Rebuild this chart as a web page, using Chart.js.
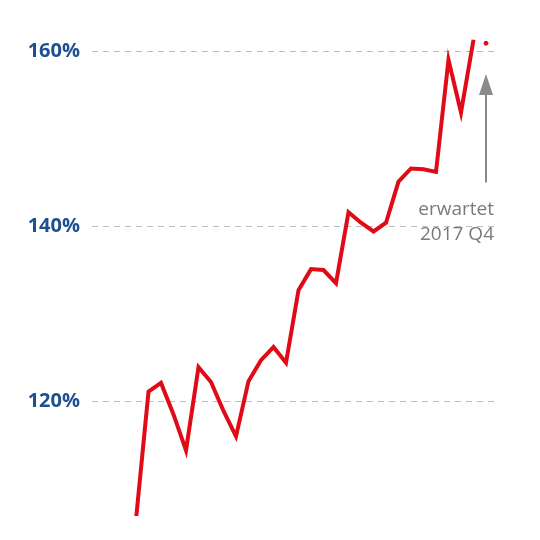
<!DOCTYPE html>
<html><head><meta charset="utf-8">
<script src="https://cdn.jsdelivr.net/npm/chart.js@4"></script>
<style>html,body{margin:0;padding:0;background:#fff;overflow:hidden}canvas{display:block}</style>
</head><body><canvas id="c" width="540" height="540" style="width:540px;height:540px"></canvas>
<script>
const values = [106.5,121.1,122.1,118.5,114.4,123.9,122.2,118.9,116.0,122.3,124.7,126.2,124.4,132.7,135.1,135.0,133.5,141.6,140.4,139.4,140.4,145.1,146.6,146.5,146.2,159.0,153.0,161.3];
const expected = 160.9;
const tickValues = [120,140,160];
const noteLines = ["erwartet","2017 Q4"];

const lineData = values.map((v,i)=>({x:i,y:v}));
const expData = [{x:values.length,y:expected}];

const annot = {
  id:'annot',
  afterDatasetsDraw(chart){
    const {ctx,scales:{x,y}} = chart;
    const px = x.getPixelForValue(values.length);
    ctx.save();
    ctx.strokeStyle='#8a8a8a'; ctx.fillStyle='#8a8a8a'; ctx.lineWidth=2;
    const top=y.getPixelForValue(157.4), bot=y.getPixelForValue(145.0);
    ctx.beginPath(); ctx.moveTo(px,bot); ctx.lineTo(px,top+8); ctx.stroke();
    ctx.beginPath(); ctx.moveTo(px,top); ctx.lineTo(px-7,top+21); ctx.lineTo(px+7,top+21); ctx.closePath(); ctx.fill();
    ctx.fillStyle='#7a7a7a'; ctx.font='19px "Open Sans"'; ctx.textAlign='right'; ctx.textBaseline='middle';
    ctx.fillText(noteLines[0], 494, y.getPixelForValue(141.9));
    ctx.fillText(noteLines[1], 494, y.getPixelForValue(139.0));
    ctx.restore();
  }
};

new Chart(document.getElementById('c'),{
  type:'line',
  data:{datasets:[
    {data:lineData,borderColor:'#e00b16',borderWidth:4,pointRadius:0,tension:0,borderJoinStyle:'miter'},
    {data:expData,borderColor:'#e00b16',backgroundColor:'#e00b16',pointRadius:2,showLine:false}
  ]},
  options:{
    responsive:false,animation:false,devicePixelRatio:1,
    layout:{padding:{left:0,right:43,top:0,bottom:0}},
    plugins:{legend:{display:false},tooltip:{enabled:false}},
    scales:{
      x:{type:'linear',min:-3.52,max:28.88,display:false},
      y:{min:106.9,max:163.1,
        afterBuildTicks(s){s.ticks=tickValues.map(v=>({value:v}));},
        afterFit(s){s.width=92;},
        border:{display:false,dash:[6,5]},
        grid:{color:'#bdbdbd',lineWidth:1,drawTicks:false},
        ticks:{padding:12,color:'#1d4f91',font:{family:'Open Sans',size:20,weight:'bold'},callback:v=>v+'%'}
      }
    }
  },
  plugins:[annot]
});
</script></body></html>
